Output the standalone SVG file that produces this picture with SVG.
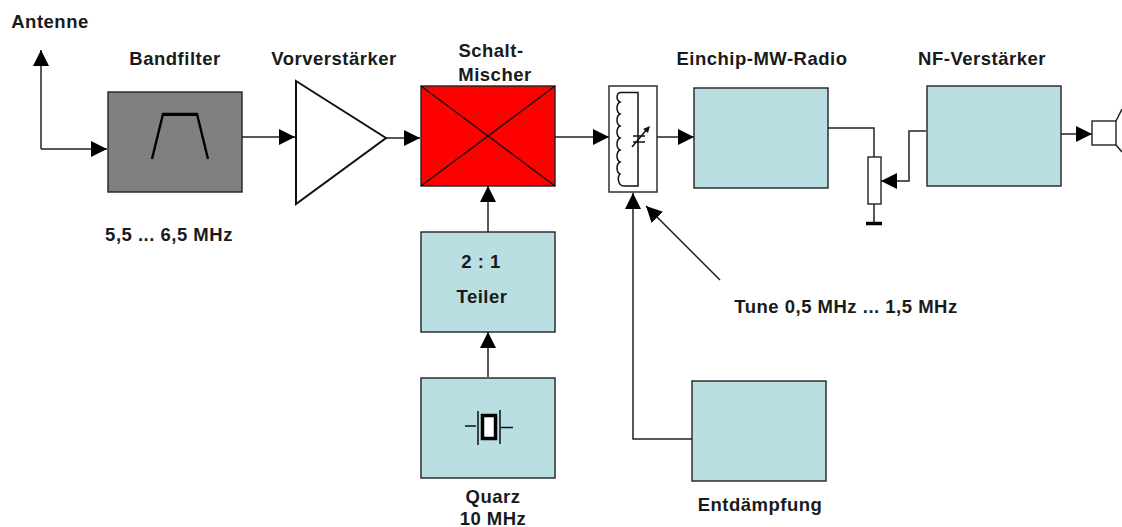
<svg xmlns="http://www.w3.org/2000/svg" width="1122" height="527" viewBox="0 0 1122 527">
<style>
text{font-family:"Liberation Sans",Arial,sans-serif;font-weight:bold;font-size:18.500px;letter-spacing:.5px;fill:#1a1a1a;text-anchor:middle}
.b{fill:#b9dfe2;stroke:#222;stroke-width:1.4}
.w{fill:#fff;stroke:#222;stroke-width:1.4}
.l{fill:none;stroke:#222;stroke-width:1.5}
.t{fill:none;stroke:#111;stroke-width:1.5}
</style>
<defs>
<marker id="a" markerUnits="userSpaceOnUse" markerWidth="17" markerHeight="18" refX="16" refY="9" orient="auto"><path d="M0 1L16 9L0 17Z" fill="#000"/></marker>
</defs>
<rect width="1122" height="527" fill="#fff"/>
<g id="connectors">
<path class="l" marker-end="url(#a)" d="M41 149V50"/>
<path class="l" marker-end="url(#a)" d="M41 149H107"/>
<path class="l" marker-end="url(#a)" d="M242 137H295"/>
<path class="l" marker-end="url(#a)" d="M386 138H420"/>
<path class="l" marker-end="url(#a)" d="M555 137H609"/>
<path class="l" marker-end="url(#a)" d="M657 137H694"/>
<path class="l" marker-end="url(#a)" d="M488 232V186"/>
<path class="l" marker-end="url(#a)" d="M488 377V332"/>
<path class="l" marker-end="url(#a)" d="M692 439H633V193"/>
<path class="l" marker-end="url(#a)" d="M720 280L646 206"/>
<path class="l" d="M828 128H874V157"/>
<path class="l" marker-end="url(#a)" d="M926 131H909V181H881"/>
<path class="l" marker-end="url(#a)" d="M1061 134H1092"/>
</g>
<g id="antenne"><text x="50" y="28">Antenne</text></g>
<g id="bandfilter">
<rect x="108" y="92" width="134" height="100" fill="#808080" stroke="#222" stroke-width="1.4"/>
<path d="M152 159L163 114H197L208 159" fill="none" stroke="#000" stroke-width="2.4"/>
<path d="M163 114.500H197" stroke="#000" stroke-width="3"/>
<text x="175" y="65">Bandfilter</text>
<text x="169" y="241">5,5 ... 6,5 MHz</text>
</g>
<g id="vorverstaerker">
<path d="M296 81L386 138L296 204Z" fill="#fff" stroke="#111" stroke-width="2"/>
<text x="334" y="65">Vorverstärker</text>
</g>
<g id="mischer">
<rect x="421" y="86" width="134" height="100" fill="#f00" stroke="#222" stroke-width="1.4"/>
<path class="t" d="M421 86L555 186M555 86L421 186"/>
<text x="491" y="57">Schalt-</text>
<text x="495" y="81">Mischer</text>
</g>
<g id="teiler">
<rect class="b" x="421" y="232" width="134" height="100"/>
<text x="481" y="268">2 : 1</text>
<text x="482" y="303">Teiler</text>
</g>
<g id="quarz">
<rect class="b" x="421" y="378" width="134" height="100"/>
<path class="t" d="M465 426H476M478 411V445M500 410V444M501 427.500H513"/>
<rect x="482.500" y="415.500" width="13" height="23" fill="#fff" stroke="#000" stroke-width="3.500"/>
<text x="493" y="503">Quarz</text>
<text x="493" y="525">10 MHz</text>
</g>
<g id="schwingkreis">
<rect x="609" y="86" width="48" height="106" fill="#fff" stroke="#222" stroke-width="1.4"/>
<path class="t" d="M638 92.500H621C616 92.500 616 100 620 102C616 104 616 112 620 114C616 116 616 124 620 126C616 128 616 136 620 138C616 140 616 148 620 150C616 152 616 160 620 162C616 164 616 172 620 174C617 177 618 186 624 186H638Z"/>
<path class="t" d="M632 147L648 128"/>
<path d="M650 126L643 129L648 133Z" fill="#111"/>
<path class="t" d="M633 136H645"/>
<path d="M633 142H645" class="t"/>
</g>
<g id="radio">
<rect class="b" x="694" y="88" width="134" height="100"/>
<text x="762" y="65">Einchip-MW-Radio</text>
</g>
<g id="poti">
<rect class="w" x="868" y="157" width="13" height="47"/>
<path class="l" d="M874 204V223"/>
<path d="M866 223.500H882" stroke="#000" stroke-width="3.500"/>
</g>
<g id="nf">
<rect class="b" x="927" y="86" width="134" height="100"/>
<text x="982" y="65">NF-Verstärker</text>
</g>
<g id="lautsprecher">
<rect class="w" x="1092" y="121" width="24" height="24"/>
<path class="l" d="M1116 121L1122 109M1116 145L1122 152"/>
</g>
<g id="tune"><text x="846" y="313">Tune 0,5 MHz ... 1,5 MHz</text></g>
<g id="entdaempfung">
<rect class="b" x="692" y="381" width="134" height="100"/>
<text x="760" y="511">Entdämpfung</text>
</g>
</svg>
